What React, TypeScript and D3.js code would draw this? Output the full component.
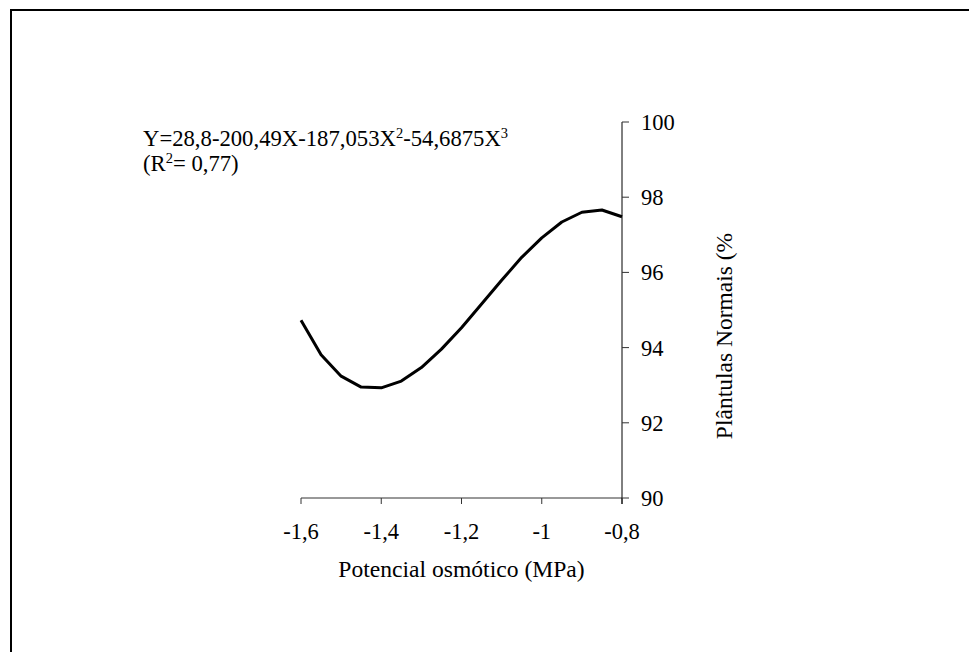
import React from "react";
import * as d3 from "d3";

const potencial = [-1.6, -1.55, -1.5, -1.45, -1.4, -1.35, -1.3, -1.25, -1.2, -1.15, -1.1, -1.05, -1.0, -0.95, -0.9, -0.85, -0.8];
const plantulas = [94.73, 93.81, 93.24, 92.95, 92.93, 93.11, 93.47, 93.96, 94.53, 95.16, 95.79, 96.4, 96.92, 97.34, 97.6, 97.66, 97.48];
const xTicks = [-1.6, -1.4, -1.2, -1, -0.8];
const yTicks = [90, 92, 94, 96, 98, 100];
const xTitle = "Potencial osmótico (MPa)";
const yTitle = "Plântulas Normais (%";

const W = 969;
const H = 652;
const FONT = "'Liberation Serif', 'Times New Roman', serif";

export default function App() {
  const x = d3.scaleLinear().domain([-1.6, -0.8]).range([301, 622]);
  const y = d3.scaleLinear().domain([90, 100]).range([498, 122]);
  const pts = potencial.map((p, i) => [p, plantulas[i]] as [number, number]);
  const line = d3.line<[number, number]>().x(d => x(d[0])).y(d => y(d[1]));
  const fmt = (v: number) => String(v).replace(".", ",");
  const ax = x(-0.8);
  return (
    <svg width={W} height={H} style={{ position: "absolute", left: 0, top: 0, background: "#fff" }} fontFamily={FONT}>
      <rect x={11} y={10} width={1100} height={800} fill="none" stroke="#000" strokeWidth={2} />
      {/* x axis */}
      <line x1={x(-1.6)} x2={ax} y1={y(90)} y2={y(90)} stroke="#333" strokeWidth={1} />
      {xTicks.map(t => (
        <g key={"xt" + t}>
          <line x1={x(t)} x2={x(t)} y1={y(90)} y2={y(90) + 6} stroke="#333" strokeWidth={1} />
          <text x={x(t)} y={539} textAnchor="middle" fontSize={22.5} fill="#000">{fmt(t)}</text>
        </g>
      ))}
      <text x={(x(-1.6) + ax) / 2} y={577} textAnchor="middle" fontSize={23.6} fill="#000">{xTitle}</text>
      {/* y axis */}
      <line x1={ax} x2={ax} y1={y(100)} y2={y(90) + 6} stroke="#000" strokeWidth={1} />
      {yTicks.map(t => (
        <g key={"yt" + t}>
          <line x1={ax} x2={ax + 7} y1={y(t)} y2={y(t)} stroke="#333" strokeWidth={1} />
          <text x={641} y={y(t) + 8} fontSize={22.5} fill="#000">{t}</text>
        </g>
      ))}
      <text transform={`translate(732, 336) rotate(-90)`} textAnchor="middle" fontSize={23.5} fill="#000">{yTitle}</text>
      {/* curve */}
      <path d={line(pts) || ""} fill="none" stroke="#000" strokeWidth={3} strokeLinejoin="round" />
      {/* equation */}
      <text x={143} y={146} fontSize={22.7} fill="#000">
        <tspan>Y=28,8-200,49X-187,053X</tspan><tspan dy={-8} fontSize={14.5}>2</tspan><tspan dy={8}>-54,6875X</tspan><tspan dy={-8} fontSize={14.5}>3</tspan>
        <tspan x={143} dy={33}>(R</tspan><tspan dy={-8} fontSize={14.5}>2</tspan><tspan dy={8}>= 0,77)</tspan>
      </text>
    </svg>
  );
}
